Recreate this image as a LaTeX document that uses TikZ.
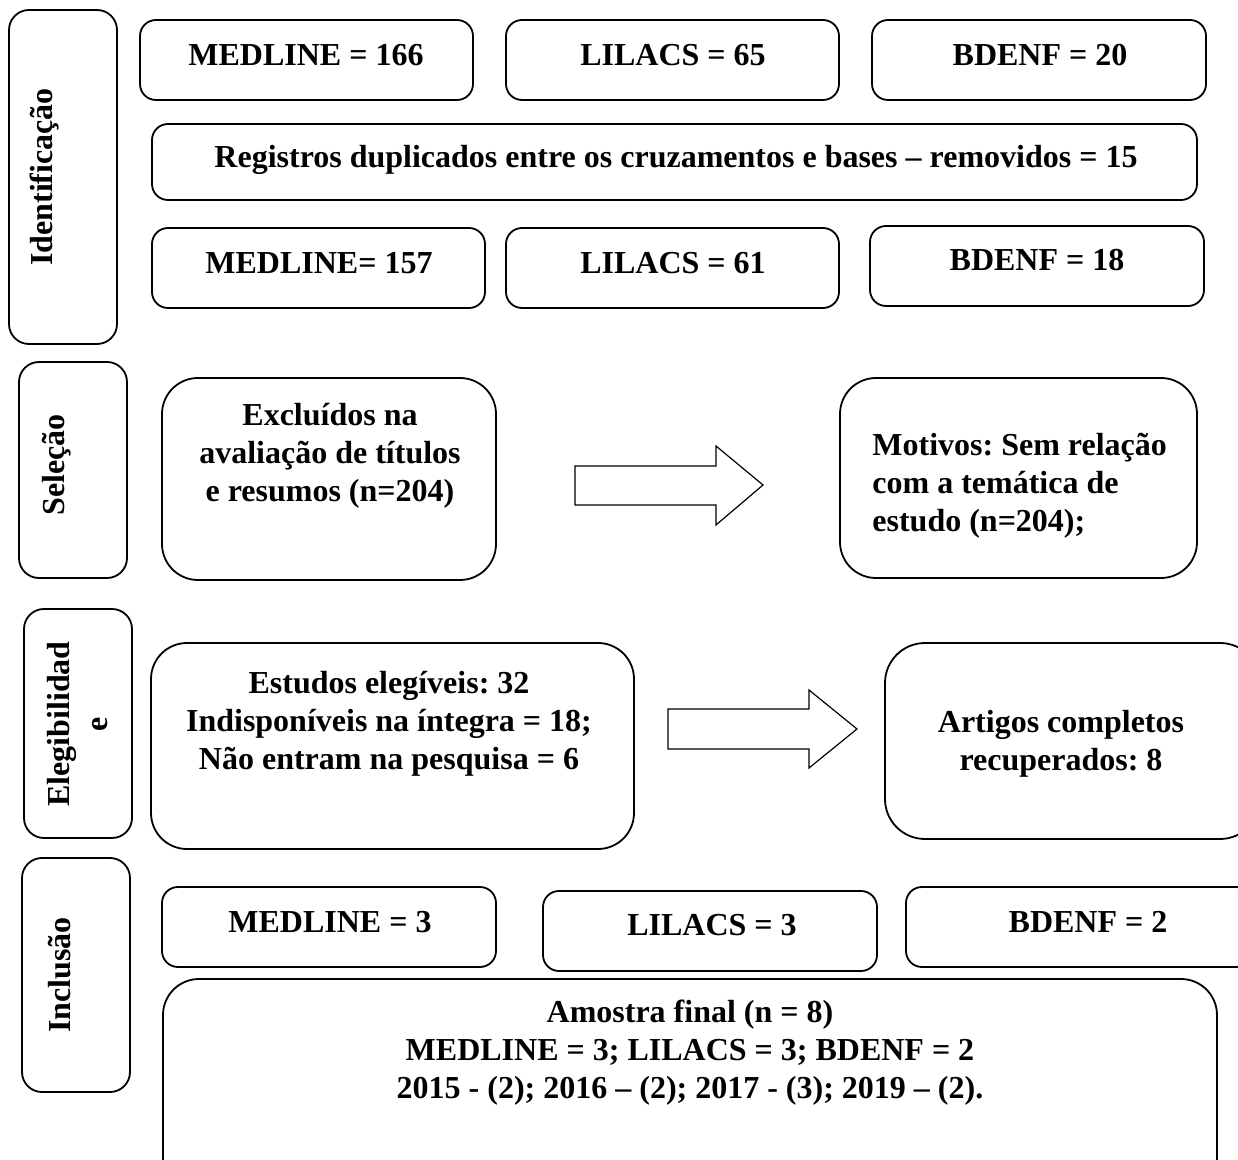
\documentclass[tikz,border=0pt]{standalone}
\usepackage{fontspec}
\setmainfont{Liberation Serif}
\frenchspacing
\begin{document}
\begin{tikzpicture}[x=0.5pt,y=-0.5pt,
  txt/.style={font=\bfseries\fontsize{16}{19}\selectfont, align=center, inner sep=0pt},
  txtl/.style={font=\bfseries\fontsize{16}{19}\selectfont, align=left, inner sep=0pt, anchor=west},
  side/.style={font=\bfseries\fontsize{16}{19}\selectfont, align=center, inner sep=0pt, rotate=90},
  arr/.style={draw, line width=0.6pt, line join=miter, fill=white}]
\newcommand\mybox[6]{\node[draw, line width=0.9pt, rounded corners=#6, inner sep=0pt,
  minimum width={(#4-#2)*0.5pt}, minimum height={(#5-#3)*0.5pt}] (#1) at ({(#2+#4)/2},{(#3+#5)/2}) {};}
\useasboundingbox (0,0) rectangle (1238,1160);
\clip (0,0) rectangle (1238,1160);
% Identificacao
\mybox{sid}{9}{10}{117}{344}{10pt}
\node[side] (tid) at (45,177) {Identificação};
\mybox{m1}{140}{20}{473}{100}{8pt}
\mybox{l1}{506}{20}{839}{100}{8pt}
\mybox{b1}{872}{20}{1206}{100}{8pt}
\node[txt] (tm1) at (306,55) {MEDLINE = 166};
\node[txt] (tl1) at (673,55) {LILACS = 65};
\node[txt] (tb1) at (1040,55) {BDENF = 20};
\mybox{reg}{152}{124}{1197}{200}{8pt}
\node[txt] (treg) at (676,160) {Registros duplicados entre os cruzamentos e bases -- removidos = 15};
\mybox{m2}{152}{228}{485}{308}{8pt}
\mybox{l2}{506}{228}{839}{308}{8pt}
\mybox{b2}{870}{226}{1204}{306}{8pt}
\node[txt] (tm2) at (319,263) {MEDLINE= 157};
\node[txt] (tl2) at (673,263) {LILACS = 61};
\node[txt] (tb2) at (1037,260) {BDENF = 18};
% Selecao
\mybox{ssel}{19}{362}{127}{578}{10pt}
\node[side] (tsel) at (57,465) {Seleção};
\mybox{exc}{162}{378}{496}{580}{18pt}
\node[txt] (texc) at (330,456) {Excluídos na\\avaliação de títulos\\e resumos (n=204)};
\draw[arr] (575,466) -- (716,466) -- (716,446) -- (763,485) -- (716,525) -- (716,505) -- (575,505) -- cycle;
\mybox{mot}{840}{378}{1197}{578}{18pt}
\node[txtl] (tmot) at (872,486) {Motivos: Sem relação\\com a temática de\\estudo (n=204);};
% Elegibilidade
\mybox{sel}{24}{609}{132}{838}{10pt}
\node[side] (tel) at (78,724) {Elegibilidad\\e};
\mybox{est}{151}{643}{634}{849}{18pt}
\node[txt] (test) at (389,724) {Estudos elegíveis: 32\\Indisponíveis na íntegra = 18;\\Não entram na pesquisa = 6};
\draw[arr] (668,709) -- (809,709) -- (809,690) -- (857,729) -- (809,768) -- (809,749) -- (668,749) -- cycle;
\mybox{art}{885}{643}{1260}{839}{20pt}
\node[txt] (tart) at (1061,744) {Artigos completos\\recuperados: 8};
% Inclusao
\mybox{sinc}{22}{858}{130}{1092}{10pt}
\node[side] (tinc) at (60,975) {Inclusão};
\mybox{m3}{162}{887}{496}{967}{8pt}
\mybox{l3}{543}{891}{877}{971}{8pt}
\mybox{b3}{906}{887}{1252}{967}{8pt}
\node[txt] (tm3) at (330,922) {MEDLINE = 3};
\node[txt] (tl3) at (712,925) {LILACS = 3};
\node[txt] (tb3) at (1088,922) {BDENF = 2};
\mybox{amo}{163}{979}{1217}{1200}{18pt}
\node[txt] (tamo) at (690,1053) {Amostra final (n = 8)\\MEDLINE = 3; LILACS = 3; BDENF = 2\\2015 - (2); 2016 -- (2); 2017 - (3); 2019 -- (2).};
\end{tikzpicture}
\end{document}
